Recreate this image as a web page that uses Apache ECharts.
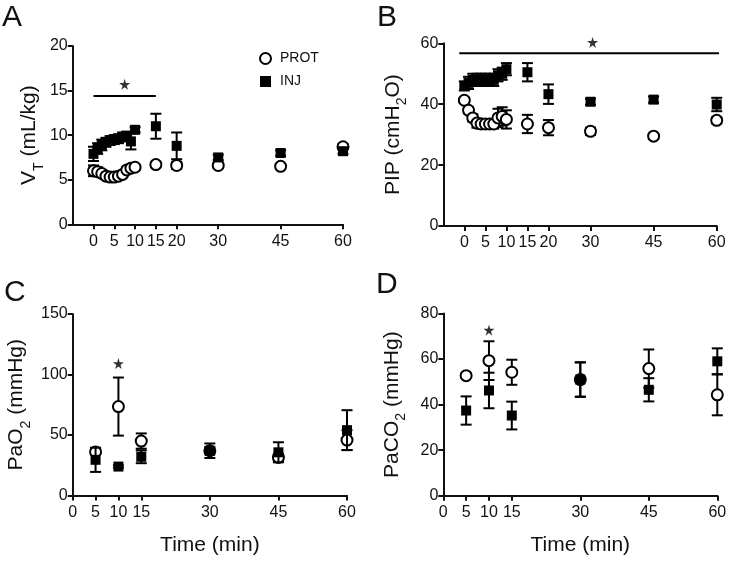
<!DOCTYPE html>
<html>
<head>
<meta charset="utf-8">
<script src="https://cdn.jsdelivr.net/npm/echarts@6/dist/echarts.min.js"></script>
<style>
html,body{margin:0;padding:0;background:#fff;}
#chart{width:731px;height:561px;}
</style>
</head>
<body>
<div id="chart"></div>
<script>
// ---------- data ----------
const timesAB = [0, 1, 2, 3, 4, 5, 6, 7, 8, 9, 10, 15, 20, 30, 45, 60];
const xTicksAB = [0, 5, 10, 15, 20, 30, 45, 60];
const timesCD = [5, 10, 15, 30, 45, 60];
const xTicksCD = [0, 5, 10, 15, 30, 45, 60];

// Panel A: VT (mL/kg)
const vtProt    = [6.0, 5.9, 5.7, 5.4, 5.3, 5.3, 5.4, 5.6, 6.1, 6.3, 6.4, 6.7, 6.6, 6.6, 6.5, 8.7];
const vtProtSem = [0.6, 0.5, 0.4, 0.3, 0.3, 0.3, 0.3, 0.3, 0.3, 0.3, 0.3, 0.3, 0.4, 0.3, 0.2, 0.3];
const vtInj     = [7.9, 8.5, 8.9, 9.2, 9.4, 9.5, 9.6, 9.8, 9.9, 9.3, 10.6, 11.0, 8.8, 7.5, 8.0, 8.2];
const vtInjSem  = [0.8, 0.6, 0.6, 0.5, 0.5, 0.5, 0.5, 0.5, 0.5, 0.9, 0.3, 1.4, 1.5, 0.3, 0.3, 0.3];

// Panel B: PIP (cmH2O)
const pipProt    = [41.3, 38.0, 35.5, 33.8, 33.5, 33.5, 33.5, 33.5, 35.5, 36.0, 35.0, 33.5, 32.3, 31.1, 29.5, 34.7];
const pipProtSem = [0.8, 1.0, 1.2, 1.5, 1.5, 1.5, 1.5, 1.5, 3.0, 3.0, 3.0, 3.0, 2.5, 1.2, 0.8, 1.0];
const pipInj     = [46.0, 47.0, 48.0, 48.0, 48.0, 48.0, 48.0, 48.0, 49.5, 50.0, 51.5, 50.5, 43.3, 40.8, 41.5, 39.9];
const pipInjSem  = [1.5, 2.0, 2.0, 2.0, 2.0, 2.0, 2.0, 2.0, 2.0, 2.0, 2.0, 3.0, 3.2, 1.0, 1.0, 2.2];

// Panel C: PaO2 (mmHg)
const pao2Prot    = [36.0, 73.5, 45.0, 37.0, 31.5, 45.8];
const pao2ProtSem = [2.0, 24.0, 6.3, 3.0, 3.0, 8.2];
const pao2Inj     = [29.5, 23.9, 32.0, 37.0, 35.7, 54.0];
const pao2InjSem  = [10.0, 1.0, 5.3, 6.0, 8.3, 16.5];

// Panel D: PaCO2 (mmHg)
const paco2Prot    = [52.7, 59.3, 54.2, 51.0, 55.8, 44.3];
const paco2ProtSem = [1.0, 8.5, 5.5, 7.6, 8.4, 9.0];
const paco2Inj     = [37.4, 46.2, 35.2, 51.0, 46.5, 59.0];
const paco2InjSem  = [6.2, 7.8, 6.1, 7.5, 5.1, 5.7];

// significance markers
const sigLineA = [[0, 14.4], [15, 14.4]];
const starA = [7.5, 15.7];
const sigLineB = [[-1.2, 56.7], [61.5, 56.7]];
const starB = [30.5, 60.3];
const starC = [10, 109];
const starD = [10, 72.7];

// ---------- helpers ----------
const FONT = '"Liberation Sans", Arial, sans-serif';
const INK = '#111';
const STAR_PATH = 'path://M50,0 L61,35 L98,35 L68,57 L79,91 L50,70 L21,91 L32,57 L2,35 L39,35 Z';

function errData(times, v, sem) {
  return times.map((t, i) => [t, v[i] - sem[i], v[i] + sem[i]]);
}
function ptData(times, v) {
  return times.map((t, i) => [t, v[i]]);
}
function errRender(params, api) {
  const x = api.value(0);
  const lo = api.coord([x, api.value(1)]);
  const hi = api.coord([x, api.value(2)]);
  const w = 5.5;
  const st = { stroke: '#000', lineWidth: 2 };
  return {
    type: 'group',
    children: [
      { type: 'line', shape: { x1: lo[0], y1: lo[1], x2: hi[0], y2: hi[1] }, style: st },
      { type: 'line', shape: { x1: lo[0] - w, y1: lo[1], x2: lo[0] + w, y2: lo[1] }, style: st },
      { type: 'line', shape: { x1: hi[0] - w, y1: hi[1], x2: hi[0] + w, y2: hi[1] }, style: st }
    ]
  };
}
function panelSeries(g, times, prot, protSem, inj, injSem) {
  return [
    { type: 'custom', xAxisIndex: g, yAxisIndex: g, renderItem: errRender,
      data: errData(times, prot, protSem), encode: { x: 0, y: [1, 2] }, z: 2, silent: true },
    { name: 'PROT', type: 'scatter', xAxisIndex: g, yAxisIndex: g, symbol: 'circle', symbolSize: 11,
      itemStyle: { color: '#fff', borderColor: '#000', borderWidth: 2, opacity: 1 },
      data: ptData(times, prot), z: 3, clip: false },
    { type: 'custom', xAxisIndex: g, yAxisIndex: g, renderItem: errRender,
      data: errData(times, inj, injSem), encode: { x: 0, y: [1, 2] }, z: 4, silent: true },
    { name: 'INJ', type: 'scatter', xAxisIndex: g, yAxisIndex: g, symbol: 'rect', symbolSize: 10,
      itemStyle: { color: '#000', opacity: 1 },
      data: ptData(times, inj), z: 5, clip: false }
  ];
}
function starSeries(g, pos) {
  return { type: 'scatter', xAxisIndex: g, yAxisIndex: g, symbol: STAR_PATH, symbolSize: 11,
    itemStyle: { color: '#000' }, data: [pos], z: 6, clip: false, silent: true };
}
function sigLineSeries(g, pts) {
  return { type: 'line', xAxisIndex: g, yAxisIndex: g, data: pts, showSymbol: false, symbol: 'none',
    lineStyle: { color: '#000', width: 2 }, z: 6, clip: false, silent: true };
}

const axisLineStyle = { show: true, onZero: false, lineStyle: { color: INK, width: 2 } };
const tickStyle = { show: true, inside: false, length: 5, lineStyle: { color: INK, width: 2 } };
const labelStyle = { color: INK, fontFamily: FONT, fontSize: 16 };

function xAxis(g, min, ticks, withName) {
  const ax = {
    type: 'value', gridIndex: g, min: min, max: 60, interval: 5,
    axisLine: axisLineStyle,
    axisTick: Object.assign({}, tickStyle, { customValues: ticks }),
    axisLabel: Object.assign({}, labelStyle, { customValues: ticks, margin: 9 }),
    splitLine: { show: false }
  };
  if (withName) {
    ax.name = 'Time (min)';
    ax.nameLocation = 'middle';
    ax.nameGap = 39;
    ax.nameTextStyle = { color: INK, fontFamily: FONT, fontSize: 21 };
  }
  return ax;
}
function yAxis(g, max, interval, richName, gap) {
  return {
    type: 'value', gridIndex: g, min: 0, max: max, interval: interval,
    axisLine: axisLineStyle, axisTick: tickStyle,
    axisLabel: Object.assign({}, labelStyle, { margin: 5 }),
    splitLine: { show: false },
    name: richName, nameLocation: 'middle', nameRotate: 90, nameGap: gap,
    nameTextStyle: {
      color: INK, fontFamily: FONT, fontSize: 21,
      rich: {
        a: { color: INK, fontFamily: FONT, fontSize: 21 },
        s: { color: INK, fontFamily: FONT, fontSize: 14, verticalAlign: 'bottom', padding: [0, 0, -6, 0] }
      }
    }
  };
}

const option = {
  animation: false,
  backgroundColor: '#fff',
  textStyle: { fontFamily: FONT },
  grid: [
    { left: 72.7, top: 46, right: 388, bottom: 336.7 },
    { left: 443.3, top: 43.3, right: 14.3, bottom: 335 },
    { left: 72.7, top: 314, right: 384, bottom: 65.5 },
    { left: 443.3, top: 313.5, right: 13.7, bottom: 65.3 }
  ],
  xAxis: [
    xAxis(0, -5, xTicksAB, false),
    xAxis(1, -5, xTicksAB, false),
    xAxis(2, 0, xTicksCD, true),
    xAxis(3, 0, xTicksCD, true)
  ],
  yAxis: [
    yAxis(0, 20, 5, '{a|V}{s|T}{a| (mL/kg)}', 32),
    yAxis(1, 60, 20, '{a|PIP (cmH}{s|2}{a|O)}', 40),
    yAxis(2, 150, 50, '{a|PaO}{s|2}{a| (mmHg)}', 46),
    yAxis(3, 80, 20, '{a|PaCO}{s|2}{a| (mmHg)}', 41)
  ],
  legend: {
    left: 259, top: 51.5, padding: 0, orient: 'vertical', itemGap: 9, itemWidth: 11, itemHeight: 11,
    selectedMode: false,
    textStyle: { color: INK, fontFamily: FONT, fontSize: 14, padding: [0, 0, 0, 4] },
    data: [
      { name: 'PROT', icon: 'circle', itemStyle: { color: '#fff', borderColor: '#000', borderWidth: 2 } },
      { name: 'INJ', icon: 'rect', itemStyle: { color: '#000' } }
    ]
  },
  graphic: [
    { type: 'text', left: 2, top: 3, style: { text: 'A', fontSize: 30, fontFamily: FONT, fill: INK } },
    { type: 'text', left: 377, top: 3, style: { text: 'B', fontSize: 30, fontFamily: FONT, fill: INK } },
    { type: 'text', left: 4, top: 278, style: { text: 'C', fontSize: 30, fontFamily: FONT, fill: INK } },
    { type: 'text', left: 376, top: 270, style: { text: 'D', fontSize: 30, fontFamily: FONT, fill: INK } }
  ],
  series: [].concat(
    panelSeries(0, timesAB, vtProt, vtProtSem, vtInj, vtInjSem),
    [sigLineSeries(0, sigLineA), starSeries(0, starA)],
    panelSeries(1, timesAB, pipProt, pipProtSem, pipInj, pipInjSem),
    [sigLineSeries(1, sigLineB), starSeries(1, starB)],
    panelSeries(2, timesCD, pao2Prot, pao2ProtSem, pao2Inj, pao2InjSem),
    [starSeries(2, starC)],
    panelSeries(3, timesCD, paco2Prot, paco2ProtSem, paco2Inj, paco2InjSem),
    [starSeries(3, starD)]
  )
};

const chart = echarts.init(document.getElementById('chart'), null, { renderer: 'canvas' });
chart.setOption(option);
</script>
</body>
</html>
